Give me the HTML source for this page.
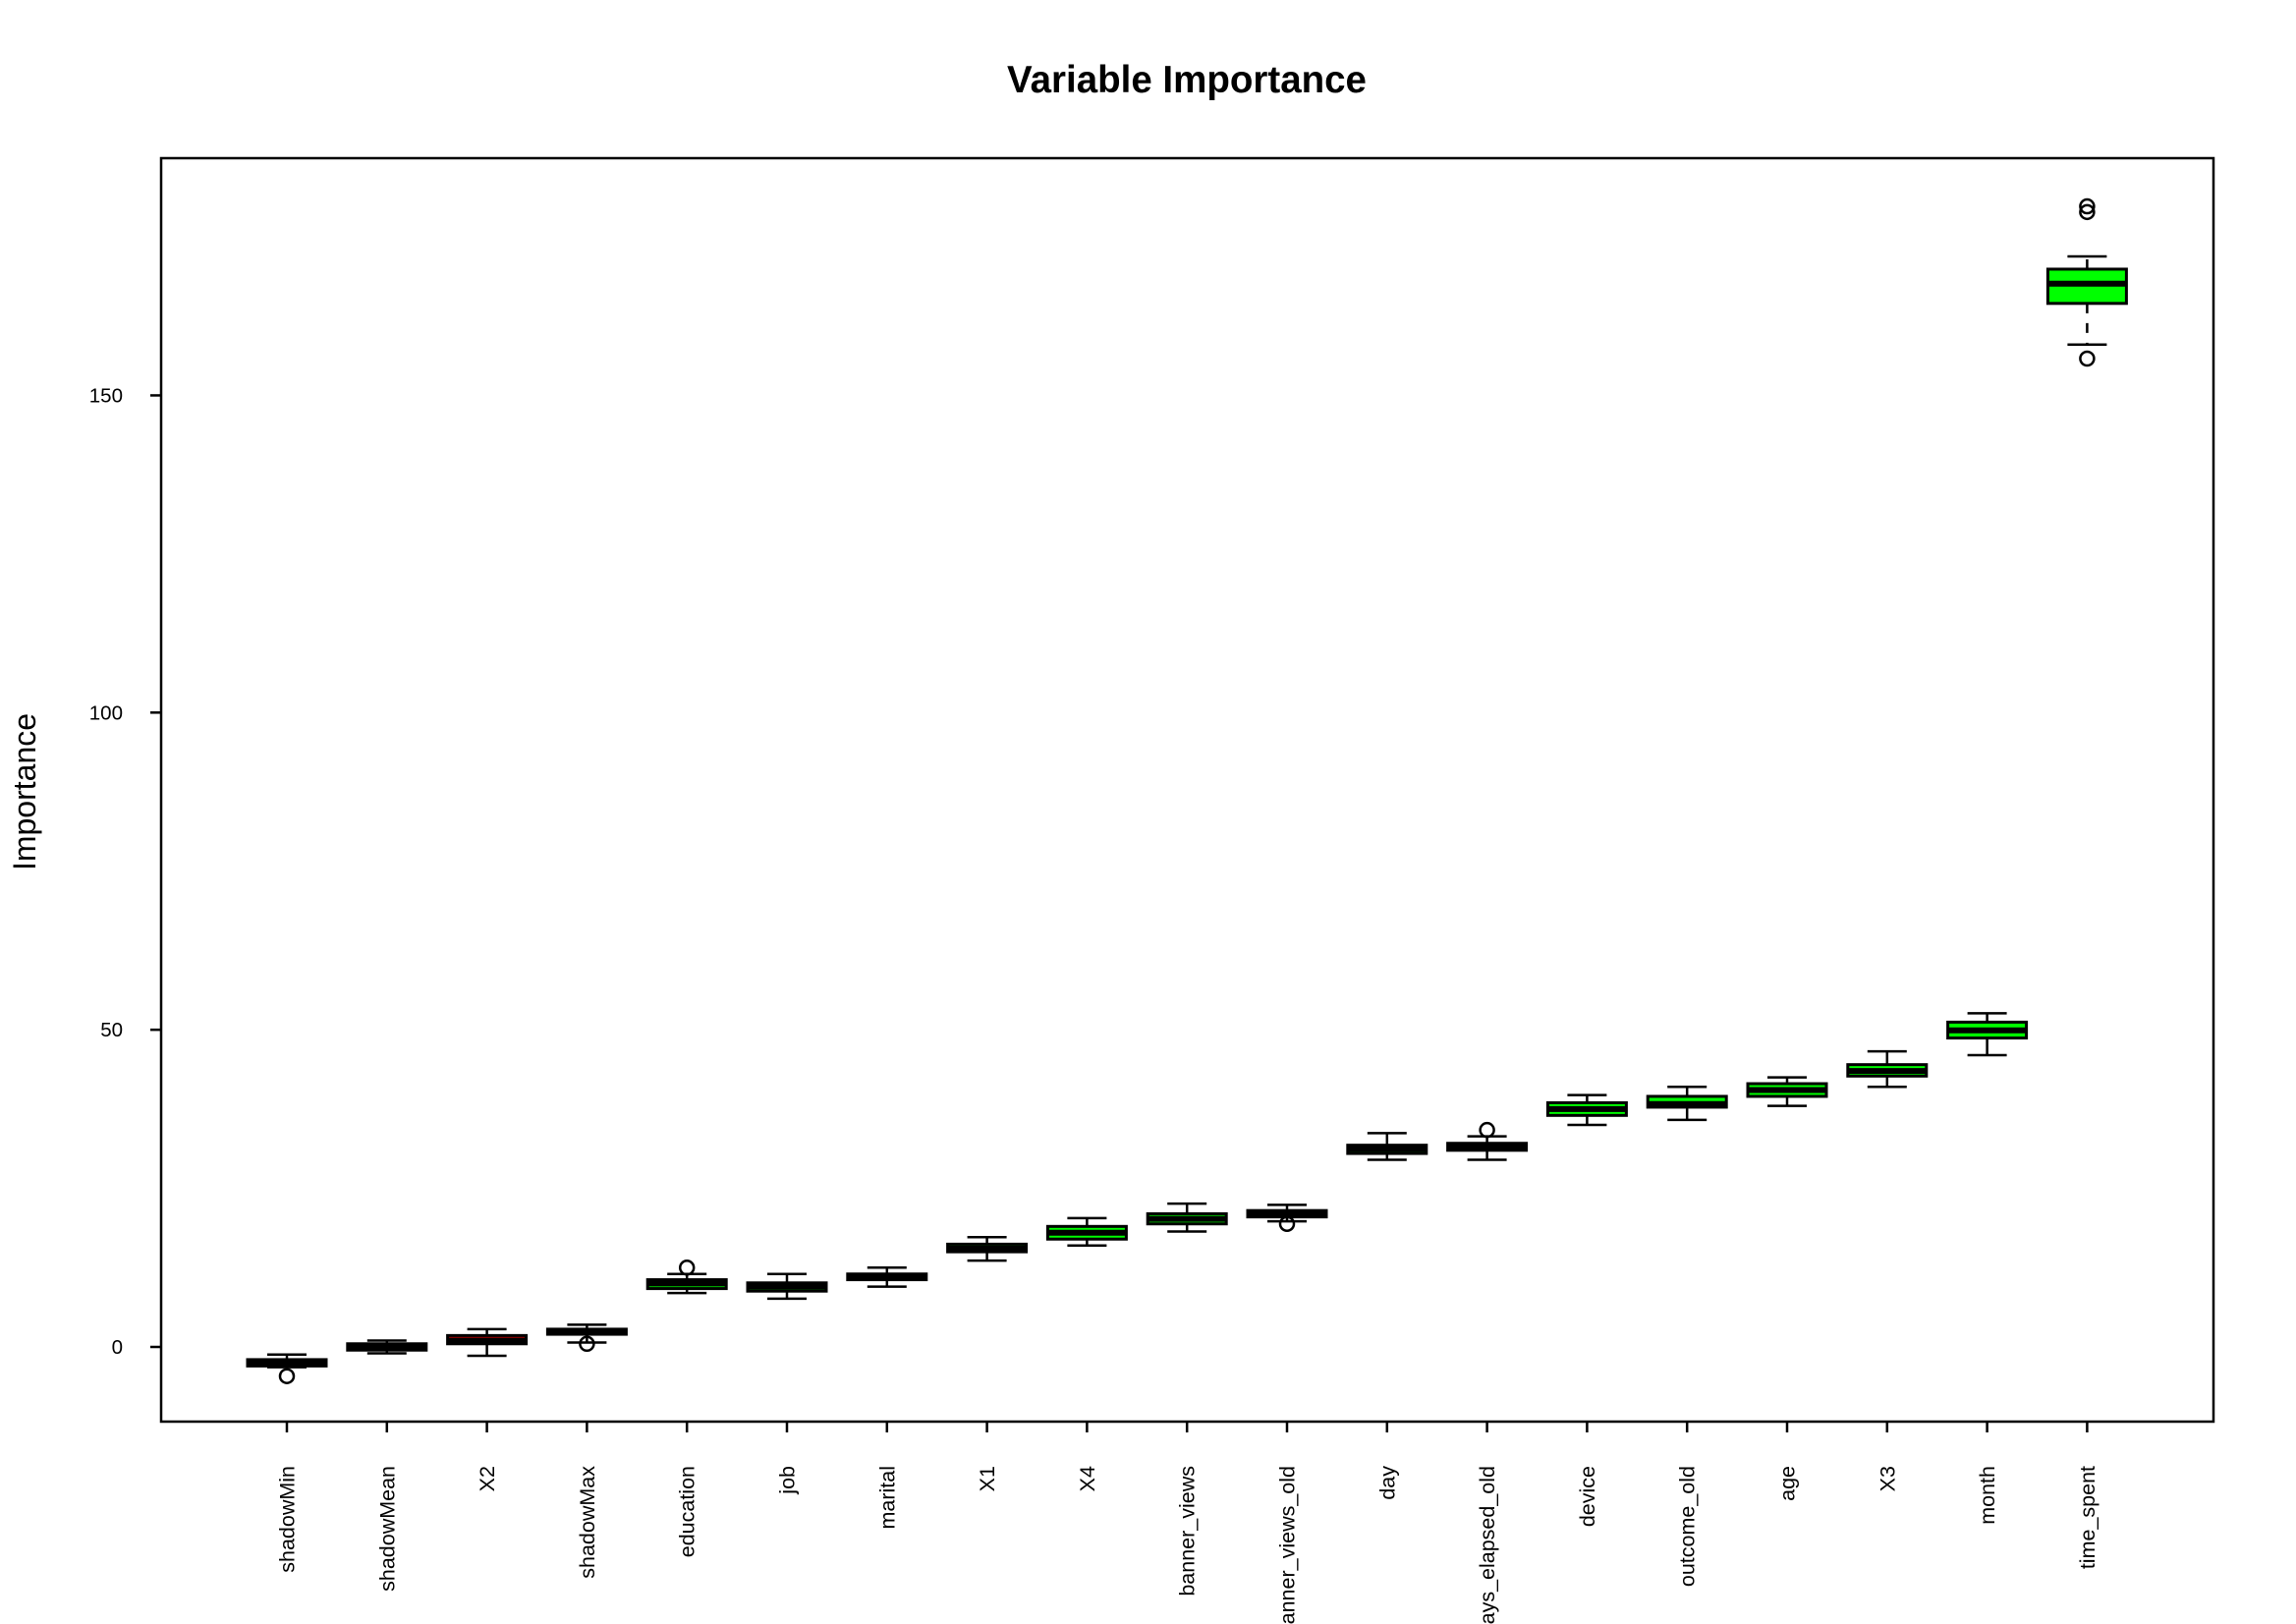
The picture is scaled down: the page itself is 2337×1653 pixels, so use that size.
<!DOCTYPE html>
<html><head><meta charset="utf-8"><style>
html,body{margin:0;padding:0;background:#fff;}
svg{display:block;font-family:"Liberation Sans",Arial,sans-serif;}
</style></head><body>
<svg id="chart" width="2337" height="1653" viewBox="0 0 2337 1653" xmlns="http://www.w3.org/2000/svg">
<rect x="0" y="0" width="2337" height="1653" fill="#fff"/>
<text x="1208" y="94" text-anchor="middle" font-size="38.5" font-weight="bold">Variable Importance</text>
<text x="0" y="0" transform="translate(36,806) rotate(-90)" text-anchor="middle" font-size="32">Importance</text>
<rect x="164" y="161" width="2089" height="1286" fill="none" stroke="#000" stroke-width="2.5"/>
<g id="marks"></g>
</svg>
<script>
const categories=["shadowMin","shadowMean","X2","shadowMax","education","job","marital","X1","X4","banner_views","banner_views_old","day","days_elapsed_old","device","outcome_old","age","X3","month","time_spent"];
const medians=[-2.5,0,1,2.4,10,9.5,11,15.5,18,20.2,21,31.2,31.5,37.5,38.3,40.5,43.5,49.9,167.6];
const q1s=[-3,-0.5,0.5,2,9.2,8.8,10.6,15,17,19.4,20.5,30.5,31,36.5,37.8,39.5,42.7,48.7,164.5];
const q3s=[-2,0.5,1.8,2.8,10.6,10.1,11.5,16.2,19,21,21.5,31.8,32.1,38.5,39.5,41.5,44.5,51.2,169.9];
const whiskLo=[-3.2,-1,-1.4,0.7,8.5,7.6,9.5,13.6,16,18.2,19.8,29.5,29.5,35,35.8,38,41,46,158];
const whiskHi=[-1.2,1,2.8,3.5,11.5,11.5,12.5,17.3,20.3,22.6,22.4,33.7,33.2,39.7,41,42.5,46.6,52.6,171.9];
const outliers=[[-4.6],[],[],[0.5],[12.5],[],[],[],[],[],[19.4],[],[34.2],[],[],[],[],[],[179.8,178.9,155.8]];
const decisions=["shadow","shadow","rejected","shadow","confirmed","confirmed","confirmed","confirmed","confirmed","confirmed","confirmed","confirmed","confirmed","confirmed","confirmed","confirmed","confirmed","confirmed","confirmed"];
const yTicks=[0,50,100,150];

const NS="http://www.w3.org/2000/svg";
const g=document.getElementById('marks');
const x0=292, dx=101.8;
function xPos(i){return x0+i*dx;}
function yPos(v){return 1371-v*6.457;}
const fills={shadow:"#0000ff",rejected:"#ff0000",confirmed:"#00ff00"};
function mk(tag,attrs){const e=document.createElementNS(NS,tag);for(const k in attrs)e.setAttribute(k,attrs[k]);g.appendChild(e);return e;}

yTicks.forEach(t=>{
  const y=yPos(t);
  const l=mk('line',{x1:153,x2:164,y1:y,y2:y,stroke:'#000','stroke-width':2.5});
  
  
  const tx=mk('text',{x:125,y:y+7,'text-anchor':'end','font-size':20.5});
  tx.textContent=String(t);
  
  
});

const hw=40;
categories.forEach((c,i)=>{
  const x=xPos(i);
  const tk=mk('line',{x1:x,x2:x,y1:1447,y2:1458,stroke:'#000','stroke-width':2.5});
  
  
  const lab=mk('text',{x:0,y:0,transform:`translate(${x+7.5},1492) rotate(-90)`,'text-anchor':'end','font-size':21.5});
  lab.textContent=c;
  
  
  const dash=(i===18)?'10,10':'none';
  const w1=mk('line',{x1:x,x2:x,y1:yPos(q3s[i]),y2:yPos(whiskHi[i]),stroke:'#000','stroke-width':2.5,'stroke-dasharray':dash});
  
  
  const w2=mk('line',{x1:x,x2:x,y1:yPos(q1s[i]),y2:yPos(whiskLo[i]),stroke:'#000','stroke-width':2.5,'stroke-dasharray':dash});
  
  
  [whiskHi[i],whiskLo[i]].forEach(v=>{
    const cp=mk('line',{x1:x-20,x2:x+20,y1:yPos(v),y2:yPos(v),stroke:'#000','stroke-width':2.5});
    
    
  });
  const yt=yPos(q3s[i]), yb=yPos(q1s[i]);
  const b=mk('rect',{x:x-hw,y:yt,width:2*hw,height:yb-yt,fill:fills[decisions[i]],stroke:'#000','stroke-width':3});
  
  
  const m=mk('line',{x1:x-hw,x2:x+hw,y1:yPos(medians[i]),y2:yPos(medians[i]),stroke:'#000','stroke-width':6});
  
  
  outliers[i].forEach(v=>{
    const o=mk('circle',{cx:x,cy:yPos(v),r:7,fill:'none',stroke:'#000','stroke-width':2.5});
    
    
  });
});
</script>
</body></html>
